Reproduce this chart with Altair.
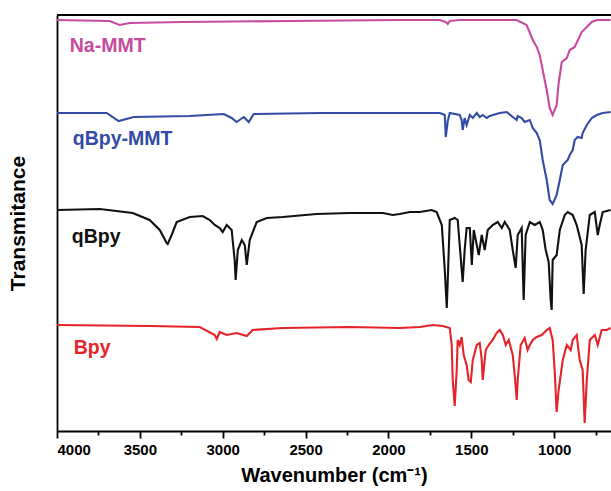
import altair as alt
import pandas as pd

FONT = "Liberation Sans"

series_names = ["Na-MMT", "qBpy-MMT", "qBpy", "Bpy"]
series_colors = ["#c64a9e", "#344ba5", "#111111", "#e62328"]

# Wavenumber (cm-1) and offset transmittance (a.u.)
na_wn = [4000, 3682, 3622, 3561, 3241, 2600, 1932, 1690, 1654, 1642, 1630, 1570, 1226, 1166,
         1129, 1105, 1087, 1069, 1045, 1027, 1009, 985, 973, 954, 924, 906, 876, 834, 803,
         773, 743, 659]
na_t = [411, 410, 406, 408, 409, 410, 411, 411, 409, 407, 410, 411, 411, 406,
        391, 384, 376, 361, 341, 323, 316, 326, 348, 369, 373, 381, 384, 399, 404,
        409, 411, 411]

qmmt_wn = [4000, 3700, 3628, 3537, 3200, 2994, 2946, 2916, 2873, 2843, 2813, 2400, 1932, 1690,
           1660, 1654, 1642, 1630, 1570, 1558, 1552, 1540, 1528, 1509, 1491, 1467, 1449, 1431,
           1407, 1389, 1328, 1286, 1250, 1226, 1220, 1196, 1178, 1147, 1129, 1105, 1087, 1069,
           1045, 1027, 1009, 985, 966, 948, 930, 918, 906, 888, 876, 858, 834, 828, 803, 773,
           743, 707, 659]
qmmt_t = [318, 318, 310, 314, 315, 317, 313, 309, 314, 309, 317, 318, 318, 318,
          316, 294, 310, 318, 316, 311, 301, 313, 306, 316, 313, 318, 314, 316,
          313, 315, 318, 319, 314, 311, 315, 313, 309, 311, 303, 298, 291, 271,
          251, 231, 227, 236, 251, 266, 269, 271, 276, 281, 291, 294, 293, 298, 306, 313,
          316, 318, 319]

qbpy_wn = [4000, 3742, 3543, 3441, 3380, 3338, 3332, 3308, 3278, 3199, 3121, 3078, 3048, 3018,
           3000, 2976, 2946, 2928, 2922, 2909, 2885, 2867, 2855, 2837, 2795, 2734, 2638, 2433,
           2234, 2034, 1974, 1932, 1871, 1811, 1739, 1709, 1678, 1660, 1648, 1642, 1630, 1600,
           1582, 1570, 1552, 1540, 1528, 1509, 1497, 1485, 1467, 1455, 1437, 1419, 1401, 1371,
           1341, 1316, 1298, 1268, 1250, 1232, 1220, 1196, 1184, 1172, 1147, 1117, 1087, 1069,
           1051, 1033, 1021, 1015, 1009, 985, 966, 936, 918, 888, 864, 834, 822, 810, 785, 755,
           737, 725, 707, 659]
qbpy_t = [221, 222, 218, 211, 201, 188, 187, 196, 209, 214, 215, 211, 206, 203,
          199, 206, 201, 171, 151, 181, 191, 186, 166, 191, 209, 213, 214, 217,
          218, 218, 216, 217, 219, 219, 221, 219, 206, 161, 123, 151, 211, 213,
          211, 186, 149, 181, 203, 203, 166, 201, 186, 176, 196, 181, 201, 206,
          209, 203, 209, 201, 181, 163, 196, 203, 131, 196, 209, 206, 209, 201,
          181, 169, 131, 121, 171, 176, 201, 216, 219, 216, 206, 186, 137, 181, 216, 219,
          196, 206, 219, 221]

bpy_wn = [4000, 3441, 3139, 3048, 3036, 3018, 2976, 2916, 2855, 2819, 2638, 2234, 1932, 1811,
          1733, 1672, 1630, 1618, 1612, 1600, 1588, 1582, 1570, 1558, 1546, 1528, 1516, 1503,
          1491, 1467, 1449, 1437, 1431, 1413, 1395, 1371, 1347, 1328, 1310, 1292, 1274, 1250,
          1238, 1226, 1220, 1202, 1178, 1160, 1147, 1129, 1105, 1075, 1045, 1027, 1009, 997,
          985, 973, 948, 924, 900, 888, 864, 846, 828, 816, 803, 785, 755, 737, 713, 683, 659]
bpy_t = [106, 105, 104, 96, 92, 99, 96, 98, 95, 101, 103, 104, 103, 104,
         106, 105, 103, 86, 51, 25, 61, 91, 86, 94, 76, 66, 51, 49,
         71, 86, 88, 71, 51, 81, 86, 91, 98, 101, 96, 86, 91, 76,
         56, 31, 51, 86, 93, 81, 86, 91, 94, 96, 101, 103, 91, 61,
         19, 41, 71, 86, 81, 91, 96, 71, 61, 8, 51, 91, 96, 86, 101, 101, 103]

label_wn = [3923, 3905, 3911, 3899]
label_t = [385, 292, 194, 83]

tick_values = [4000, 3750, 3500, 3250, 3000, 2750, 2500, 2250, 2000, 1750, 1500, 1250, 1000, 750]

X_MIN, X_MAX = 657, 4000
Y_MIN, Y_MAX = 0, 416

rows = []
for name, wns, ts in [("Na-MMT", na_wn, na_t), ("qBpy-MMT", qmmt_wn, qmmt_t),
                      ("qBpy", qbpy_wn, qbpy_t), ("Bpy", bpy_wn, bpy_t)]:
    assert len(wns) == len(ts), name
    for i, (w, t) in enumerate(zip(wns, ts)):
        rows.append({"series": name, "wn": w, "T": t, "i": i})
df = pd.DataFrame(rows)
lab_df = pd.DataFrame({"series": series_names, "wn": label_wn, "T": label_t})

xscale = alt.Scale(domain=[X_MAX, X_MIN], nice=False, zero=False)
yscale = alt.Scale(domain=[Y_MIN, Y_MAX], nice=False, zero=False)
cscale = alt.Scale(domain=series_names, range=series_colors)

xaxis = alt.Axis(
    values=tick_values, format="d",
    labelExpr="datum.value % 500 === 0 ? datum.label : ''",
    tickSize={"condition": {"test": "datum.value % 500 === 0", "value": 7}, "value": 4},
    tickWidth=1.8, tickColor="black", domainColor="black", domainWidth=1.8,
    grid=False, labelFont=FONT, labelFontSize=15, labelFontWeight="bold",
    labelColor="black", labelPadding=4,
    title="Wavenumber (cm⁻¹)", titleFont=FONT, titleFontSize=20,
    titleFontWeight="bold", titleColor="black", titlePadding=8)
yaxis = alt.Axis(
    labels=False, ticks=False, grid=False, domainColor="black", domainWidth=1.8,
    title="Transmitance", titleFont=FONT, titleFontSize=21, titleFontWeight="bold",
    titleColor="black", titlePadding=29)

lines = alt.Chart(df).mark_line(strokeWidth=2.1, clip=True).encode(
    x=alt.X("wn:Q", scale=xscale, axis=xaxis),
    y=alt.Y("T:Q", scale=yscale, axis=yaxis),
    color=alt.Color("series:N", scale=cscale, legend=None),
    order="i:Q",
)

labels = alt.Chart(lab_df).mark_text(
    align="left", baseline="middle", font=FONT, fontSize=19.5, fontWeight="bold"
).encode(
    x=alt.X("wn:Q", scale=xscale, axis=xaxis),
    y=alt.Y("T:Q", scale=yscale, axis=yaxis),
    color=alt.Color("series:N", scale=cscale, legend=None),
    text="series:N",
)

# top frame line along the upper edge of the data domain
top_frame = alt.Chart().mark_rule(color="black", strokeWidth=1.8).encode(
    x=alt.datum(X_MAX, scale=xscale, axis=xaxis),
    x2=alt.datum(X_MIN),
    y=alt.datum(Y_MAX, scale=yscale, axis=yaxis),
)

chart = alt.layer(lines, labels, top_frame).properties(
    width=554, height=416,
    autosize=alt.AutoSizeParams(type="none"),
    padding={"left": 57, "top": 15, "right": 0, "bottom": 60},
    background="white",
).configure_view(stroke=None)

chart.save("out.html", embed_options={"renderer": "svg", "actions": False})
